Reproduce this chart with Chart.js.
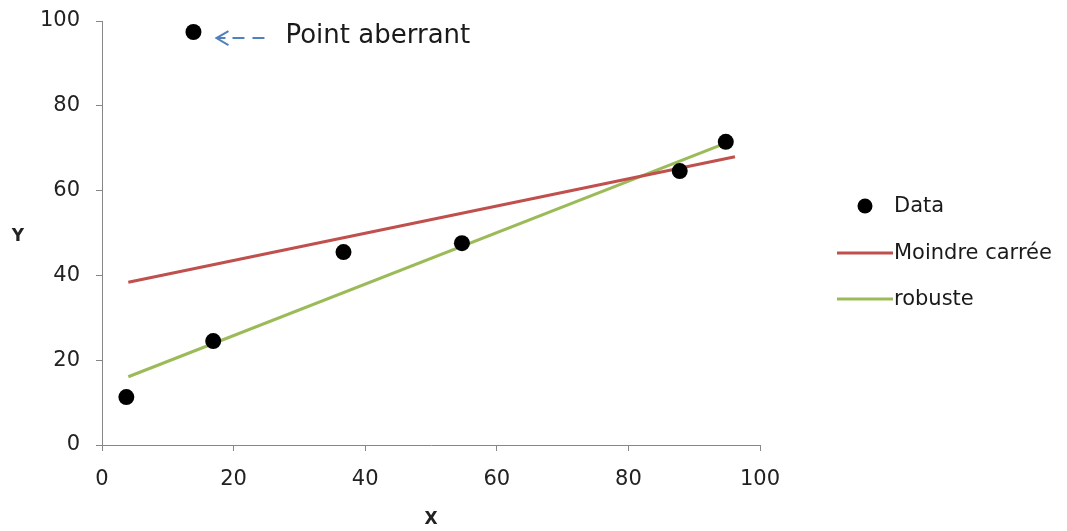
<!DOCTYPE html>
<html>
<head>
<meta charset="utf-8">
<script src="https://cdn.jsdelivr.net/npm/chart.js@4.4.0/dist/chart.umd.min.js"></script>
<style>
  html, body { margin: 0; padding: 0; background: #fff; }
  #wrap { width: 1067px; height: 531px; }
</style>
</head>
<body>
<div id="wrap"><canvas id="chart" width="1067" height="531"></canvas></div>
<script>
// values
const dataX = [3.7, 16.9, 36.7, 54.7, 87.8, 94.8, 13.9];
const dataY = [11.3, 24.5, 45.5, 47.6, 64.6, 71.5, 97.4];
const lsX = [4.0, 96.2];
const lsY = [38.4, 68.0];
const robustX = [4.0, 94.5];
const robustY = [16.1, 71.0];
const xTicks = [0, 20, 40, 60, 80, 100];
const yTicks = [0, 20, 40, 60, 80, 100];
const outlierIndex = 6;
const seriesNames = ['Data', 'Moindre carrée', 'robuste'];
const noteText = 'Point aberrant';

const FONT = '"DejaVu Sans", Verdana, sans-serif';
const axisColor = '#868686';
const red = '#C0504D';
const green = '#9BBB59';

function pts(xs, ys) { return xs.map((x, i) => ({ x, y: ys[i] })); }

// axis titles, the note about the outlier and the legend
const extras = {
  id: 'extras',
  afterDraw(chart) {
    const ctx = chart.ctx;
    const xs = chart.scales.x, ys = chart.scales.y;
    const area = chart.chartArea;
    ctx.save();

    // axis titles
    ctx.fillStyle = '#222';
    ctx.font = 'bold 17px ' + FONT;
    ctx.textAlign = 'center';
    ctx.textBaseline = 'middle';
    ctx.fillText('X', (area.left + area.right) / 2, 520);
    ctx.fillText('Y', 18, (area.top + area.bottom) / 2 + 4);

    // arrow + text next to the outlier
    const px = xs.getPixelForValue(dataX[outlierIndex]);
    const py = ys.getPixelForValue(dataY[outlierIndex]);
    const ay = py + 6;
    ctx.strokeStyle = '#4F81BD';
    ctx.lineWidth = 2;
    ctx.beginPath();
    ctx.moveTo(px + 35, ay - 7);
    ctx.lineTo(px + 23, ay);
    ctx.lineTo(px + 35, ay + 7);
    ctx.moveTo(px + 24, ay);
    ctx.lineTo(px + 32, ay);
    ctx.moveTo(px + 39, ay);
    ctx.lineTo(px + 51, ay);
    ctx.moveTo(px + 59, ay);
    ctx.lineTo(px + 71, ay);
    ctx.stroke();
    ctx.fillStyle = '#1a1a1a';
    ctx.font = '26px ' + FONT;
    ctx.textAlign = 'left';
    ctx.textBaseline = 'middle';
    ctx.fillText(noteText, px + 92, ay - 2);

    // legend
    const rows = [206, 253, 299];
    const lx = 837, lw = 56;
    ctx.font = '21px ' + FONT;
    chart.data.datasets.forEach((ds, i) => {
      const y = rows[i];
      if (ds.showLine) {
        ctx.strokeStyle = ds.borderColor;
        ctx.lineWidth = 3;
        ctx.beginPath();
        ctx.moveTo(lx, y);
        ctx.lineTo(lx + lw, y);
        ctx.stroke();
      } else {
        ctx.fillStyle = ds.pointBackgroundColor;
        ctx.beginPath();
        ctx.arc(lx + lw / 2, y, 7.5, 0, Math.PI * 2);
        ctx.fill();
      }
      ctx.fillStyle = '#1a1a1a';
      ctx.fillText(ds.label, lx + lw + 1, y + 1);
    });
    ctx.restore();
  }
};

const ctx = document.getElementById('chart').getContext('2d');
new Chart(ctx, {
  type: 'scatter',
  data: {
    datasets: [
      {
        label: seriesNames[0],
        data: pts(dataX, dataY),
        showLine: false,
        pointRadius: 8,
        pointBackgroundColor: '#000',
        pointBorderWidth: 0,
        order: 0
      },
      {
        label: seriesNames[1],
        data: pts(lsX, lsY),
        showLine: true,
        borderColor: red,
        borderWidth: 3,
        pointRadius: 0,
        order: 1
      },
      {
        label: seriesNames[2],
        data: pts(robustX, robustY),
        showLine: true,
        borderColor: green,
        borderWidth: 3,
        pointRadius: 0,
        order: 2
      }
    ]
  },
  options: {
    responsive: false,
    devicePixelRatio: 1,
    animation: false,
    layout: { padding: { left: 0, right: 307, top: 21, bottom: 0 } },
    plugins: { legend: { display: false }, tooltip: { enabled: false } },
    scales: {
      x: {
        type: 'linear', min: 0, max: 100,
        afterBuildTicks: s => { s.ticks = xTicks.map(v => ({ value: v })); },
        afterFit: s => { s.height = 86; s.paddingLeft = 0; s.paddingRight = 0; },
        grid: { drawOnChartArea: false, drawTicks: true, tickLength: 6, color: axisColor },
        border: { color: axisColor, width: 1 },
        ticks: { color: '#222', font: { family: FONT, size: 21 }, padding: 16, maxRotation: 0 }
      },
      y: {
        type: 'linear', min: 0, max: 100,
        afterBuildTicks: s => { s.ticks = yTicks.map(v => ({ value: v })); },
        afterFit: s => { s.width = 102; s.paddingTop = 0; s.paddingBottom = 0; },
        grid: { drawOnChartArea: false, drawTicks: true, tickLength: 6, color: axisColor },
        border: { color: axisColor, width: 1 },
        ticks: { color: '#222', font: { family: FONT, size: 21 }, padding: 16 }
      }
    }
  },
  plugins: [extras]
});
</script>
</body>
</html>
